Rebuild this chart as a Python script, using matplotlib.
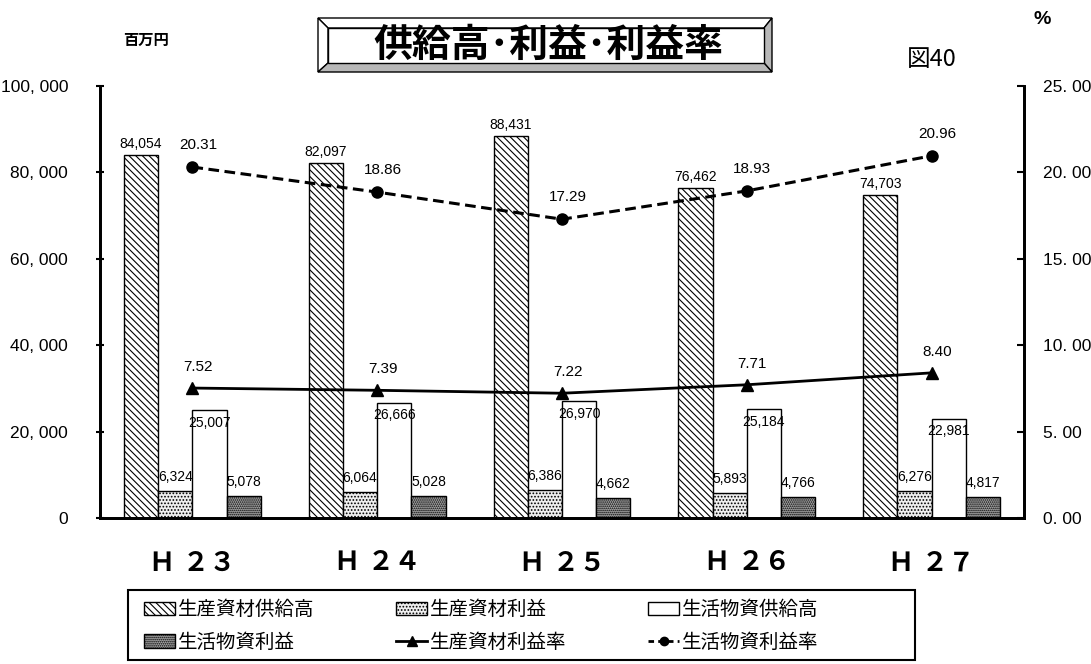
#!/usr/bin/env python3
"""供給高・利益・利益率 (図40) - grouped bars with two rate lines on a twin axis."""
import matplotlib
matplotlib.use("Agg")
import matplotlib.pyplot as plt
from matplotlib.patches import Patch, Rectangle, Polygon
from matplotlib.lines import Line2D

plt.rcParams['font.family'] = ['Liberation Sans', 'Noto Sans CJK JP', 'DejaVu Sans']
plt.rcParams['hatch.linewidth'] = 0.8

# --- data (百万円 / %) ---
years = ['Ｈ ２３', 'Ｈ ２４', 'Ｈ ２５', 'Ｈ ２６', 'Ｈ ２７']
seisan_kyokyu = [84054, 82097, 88431, 76462, 74703]   # 生産資材供給高
seisan_rieki = [6324, 6064, 6386, 5893, 6276]         # 生産資材利益
seikatsu_kyokyu = [25007, 26666, 26970, 25184, 22981]  # 生活物資供給高
seikatsu_rieki = [5078, 5028, 4662, 4766, 4817]       # 生活物資利益
seisan_rate = [7.52, 7.39, 7.22, 7.71, 8.40]          # 生産資材利益率
seikatsu_rate = [20.31, 18.86, 17.29, 18.93, 20.96]   # 生活物資利益率

left_ticks = [0, 20000, 40000, 60000, 80000, 100000]
left_labels = ['0', '20, 000', '40, 000', '60, 000', '80, 000', '100, 000']
right_ticks = [0, 5, 10, 15, 20, 25]
right_labels = ['0. 00', '5. 00', '10. 00', '15. 00', '20. 00', '25. 00']

W, H = 1091, 664
fig = plt.figure(figsize=(W / 100, H / 100), dpi=100)

# overlay in pixel coordinates for the title box / legend frame
deco = fig.add_axes([0, 0, 1, 1])
deco.set_xlim(0, W)
deco.set_ylim(H, 0)
deco.axis('off')

ax = fig.add_axes([100 / W, 1 - 518 / H, 924 / W, 432 / H])
ax2 = ax.twinx()

HATCH_MAIN = '\\\\\\\\\\'
x = list(range(len(years)))
bw = 0.185
styles = [
    dict(facecolor='white', hatch=HATCH_MAIN, edgecolor='black'),
    dict(facecolor='#efefef', hatch='.....', edgecolor='black'),
    dict(facecolor='white', edgecolor='black'),
    dict(facecolor='#a6a6a6', hatch='........', edgecolor='black'),
]
series = [(seisan_kyokyu, -1.5), (seisan_rieki, -0.5),
          (seikatsu_kyokyu, 0.5), (seikatsu_rieki, 1.5)]
for i, (vals, off) in enumerate(series):
    xs = [xi + off * bw for xi in x]
    ax.bar(xs, vals, width=bw, linewidth=1, zorder=2, **styles[i])
    for xv, v in zip(xs, vals):
        txt = f'{v:,}'
        if i == 2:
            # label sits inside the top of the white bar
            ax.annotate(txt, (xv, v), xytext=(0, -4), textcoords='offset points',
                        ha='center', va='top', fontsize=10, zorder=3)
        elif i == 0:
            ax.annotate(txt, (xv, v), xytext=(0, 3), textcoords='offset points',
                        ha='center', va='bottom', fontsize=10, zorder=3)
        else:
            ax.annotate(txt, (xv, v), xytext=(0, 5), textcoords='offset points',
                        ha='center', va='bottom', fontsize=10, zorder=1.5)

ax2.plot(x, seisan_rate, color='black', lw=2, marker='^', markersize=8)
ax2.plot(x, seikatsu_rate, color='black', lw=2.2, ls=(0, (3.5, 1.8)),
         marker='o', markersize=8)
for xv, v in zip(x, seisan_rate):
    ax2.annotate(f'{v:.2f}', (xv, v), xytext=(4, 10), textcoords='offset points',
                 ha='center', va='bottom', fontsize=11)
for xv, v in zip(x, seikatsu_rate):
    ax2.annotate(f'{v:.2f}', (xv, v), xytext=(4, 11), textcoords='offset points',
                 ha='center', va='bottom', fontsize=11)

ax.set_xlim(-0.5, len(years) - 0.5)
ax.set_ylim(0, 100000)
ax2.set_ylim(0, 25)
ax.set_yticks(left_ticks)
ax.set_yticklabels(left_labels, fontsize=12.5)
ax2.set_yticks(right_ticks)
ax2.set_yticklabels(right_labels, fontsize=12.5)
ax.set_xticks(x)
ax.set_xticklabels(years, fontsize=19, fontweight='bold')
ax.tick_params(axis='x', length=0, pad=24)
ax.tick_params(axis='y', direction='inout', length=6, width=1.5, pad=20)
ax2.tick_params(axis='y', direction='in', length=5, width=1.5, pad=14)
for a in (ax, ax2):
    a.spines['top'].set_visible(False)
    a.spines['left'].set_linewidth(2)
    a.spines['right'].set_linewidth(2)
    a.spines['bottom'].set_linewidth(2)

# title box with bevel
deco.add_patch(Polygon([(318, 18), (772, 18), (764, 28), (328, 28)], closed=True,
                       facecolor='white', edgecolor='black', lw=1))
deco.add_patch(Polygon([(318, 18), (328, 28), (328, 63), (318, 72)], closed=True,
                       facecolor='white', edgecolor='black', lw=1))
deco.add_patch(Polygon([(772, 18), (772, 72), (764, 63), (764, 28)], closed=True,
                       facecolor='#b8b8b8', edgecolor='black', lw=1))
deco.add_patch(Polygon([(318, 72), (772, 72), (764, 63), (328, 63)], closed=True,
                       facecolor='#b8b8b8', edgecolor='black', lw=1))
deco.add_patch(Rectangle((328, 28), 436, 35, facecolor='white', edgecolor='black', lw=1))
deco.text(548, 45, '供給高･利益･利益率', ha='center', va='center',
          fontsize=28, fontweight='bold', family=['Noto Sans CJK JP'])

deco.text(146, 40, '百万円', ha='center', va='center', fontsize=11,
          fontweight='bold', family=['Noto Sans CJK JP'])
deco.text(1042, 20, '%', ha='center', va='center', fontsize=14, fontweight='bold')
deco.text(932, 60, '図40', ha='center', va='center', fontsize=17,
          family=['Noto Sans CJK JP'])

# legend
deco.add_patch(Rectangle((128, 590), 787, 70, facecolor='none', edgecolor='black', lw=1.5))
handles = [Patch(**styles[0]), Patch(**styles[1]), Patch(**styles[2]), Patch(**styles[3]),
           Line2D([], [], color='black', lw=2, marker='^', markersize=7),
           Line2D([], [], color='black', lw=2, ls=(0, (2, 1.5)), marker='o', markersize=6)]
labels = ['生産資材供給高', '生産資材利益', '生活物資供給高',
          '生活物資利益', '生産資材利益率', '生活物資利益率']
order = [0, 3, 1, 4, 2, 5]
fig.legend([handles[i] for i in order], [labels[i] for i in order], ncol=3,
           loc='upper left', bbox_to_anchor=(138 / W, 1 - 595 / H),
           frameon=False, fontsize=14, handlelength=1.6, handleheight=0.7,
           handletextpad=0.15, columnspacing=4.2, labelspacing=0.72,
           borderaxespad=0, borderpad=0.3)

fig.savefig('out.png', dpi=100)
